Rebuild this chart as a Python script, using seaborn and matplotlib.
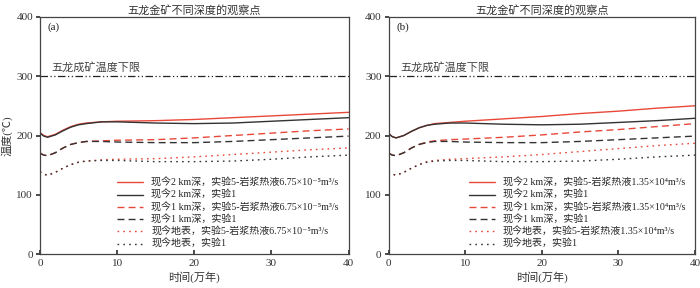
import numpy as np
import pandas as pd
import matplotlib
matplotlib.use('Agg')
import matplotlib.pyplot as plt
import seaborn as sns

sns.set_theme(style='ticks')
plt.rcParams['font.family'] = ['Liberation Serif', 'Noto Sans CJK SC', 'DejaVu Serif']

# time (10^4 years)
t = [0, 0.5, 1, 2, 3, 4, 5, 6, 8, 10, 15, 20, 25, 30, 35, 40]

# panel (a): experiment 5 with 6.75e-5 m3/s vs experiment 1
a_red_2km = [205, 200, 198, 202, 209, 215, 219, 221, 223, 224, 225, 227, 230, 233, 236, 239]
a_blk_2km = [204, 199, 197, 201, 208, 214, 218, 220, 223, 223, 221, 220, 221, 224, 227, 230]
a_red_1km = [171, 167, 166, 171, 179, 185, 188, 190, 191, 192, 193, 196, 200, 204, 208, 211]
a_blk_1km = [170, 167, 166, 171, 179, 185, 188, 190, 190, 189, 188, 188, 190, 193, 196, 199]
a_red_sur = [139, 135, 133, 138, 145, 151, 155, 157, 159, 160, 161, 164, 168, 172, 176, 179]
a_blk_sur = [139, 135, 133, 138, 145, 151, 155, 157, 158, 158, 156, 156, 157, 160, 164, 167]

# panel (b): experiment 5 with 1.35e-4 m3/s vs experiment 1
b_red_2km = [204, 198, 196, 200, 207, 213, 217, 220, 222, 224, 228, 232, 237, 241, 246, 250]
b_blk_2km = [203, 198, 196, 200, 207, 213, 217, 219, 221, 221, 219, 218, 219, 222, 225, 229]
b_red_1km = [171, 167, 166, 171, 179, 185, 189, 191, 193, 194, 197, 201, 206, 210, 215, 220]
b_blk_1km = [170, 167, 166, 171, 179, 185, 188, 190, 190, 189, 188, 188, 190, 193, 196, 199]
b_red_sur = [139, 135, 133, 138, 145, 151, 156, 158, 160, 161, 164, 168, 173, 178, 183, 187]
b_blk_sur = [139, 135, 133, 138, 145, 151, 155, 157, 158, 158, 156, 156, 157, 160, 164, 167]

threshold = 300
panel_tags = ['(a)', '(b)']
rates = ['6.75×10⁻⁵m³/s', '1.35×10⁴m³/s']
title = '五龙金矿不同深度的观察点'

red = '#e8483a'
blk = '#333333'
styles = [(red, '-'), (blk, '-'), (red, (0, (5, 3))), (blk, (0, (5, 3))),
          (red, (0, (1.2, 3))), (blk, (0, (1.2, 3)))]

fig = plt.figure(figsize=(7, 2.88), dpi=100)
axes = [fig.add_axes([0.057, 0.117, 0.441, 0.825]),
        fig.add_axes([0.555, 0.117, 0.438, 0.825])]

panels = [
    [a_red_2km, a_blk_2km, a_red_1km, a_blk_1km, a_red_sur, a_blk_sur],
    [b_red_2km, b_blk_2km, b_red_1km, b_blk_1km, b_red_sur, b_blk_sur],
]

for ax, series, tag, rate in zip(axes, panels, panel_tags, rates):
    labels = [f'现今2 km深，实验5-岩浆热液{rate}', '现今2 km深，实验1',
              f'现今1 km深，实验5-岩浆热液{rate}', '现今1 km深，实验1',
              f'现今地表，实验5-岩浆热液{rate}', '现今地表，实验1']
    for vals, (c, ls), lab in zip(series, styles, labels):
        df = pd.DataFrame({'t': t, 'T': vals})
        sns.lineplot(data=df, x='t', y='T', ax=ax, color=c, linestyle=ls,
                     linewidth=1.0, label=lab)
    ax.plot([0, 40], [threshold, threshold], color='#222222', lw=0.9,
            linestyle=(0, (6, 2, 1, 2, 1, 2)))
    ax.text(1.5, 305, '五龙成矿温度下限', fontsize=8, color='#444444', va='bottom')
    ax.text(1.0, 390, tag, fontsize=8, va='top', color='#222222')
    ax.set_xlim(0, 40)
    ax.set_ylim(0, 400)
    ax.set_xticks([0, 10, 20, 30, 40])
    ax.set_yticks([0, 100, 200, 300, 400])
    ax.tick_params(axis='x', direction='in', length=3, labelsize=8, colors='#333333')
    ax.tick_params(axis='y', direction='out', length=3, pad=2, labelsize=8, colors='#333333')
    for sp in ax.spines.values():
        sp.set_color('#444444')
        sp.set_linewidth(0.9)
    ax.set_title(title, fontsize=8, pad=2, color='#333333')
    ax.set_xlabel('时间(万年)', fontsize=8, labelpad=2, color='#333333')
    ax.set_ylabel('')
    ax.legend(loc='lower right', frameon=False, fontsize=7.2, handlelength=2.6,
              labelspacing=0.22, borderaxespad=0.6, bbox_to_anchor=(1.0, -0.02))

axes[0].set_ylabel('温度(℃)', fontsize=8, color='#333333')
axes[0].yaxis.set_label_coords(-0.088, 0.5)

fig.savefig('out.png', dpi=100)
